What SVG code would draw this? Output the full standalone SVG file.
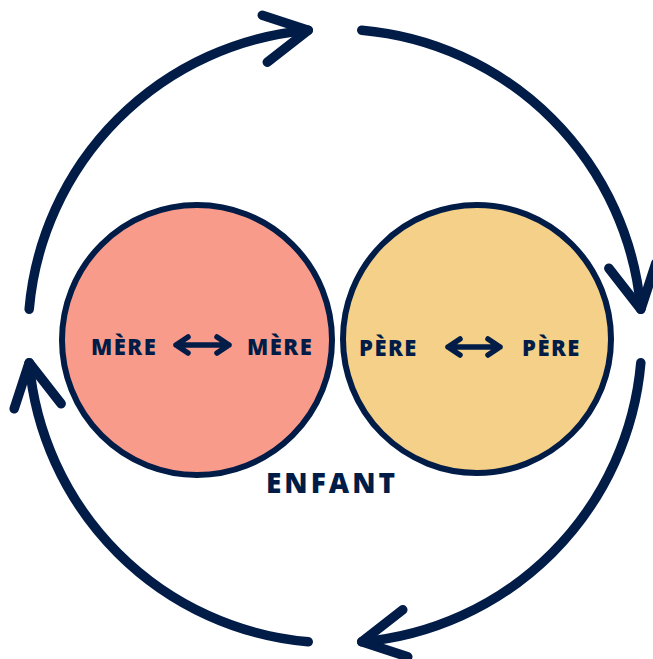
<svg xmlns="http://www.w3.org/2000/svg" width="653" height="659" viewBox="0 0 653 659">
  <style>
    .ring { fill: none; stroke: #021c48; stroke-width: 9.5; stroke-linecap: round; stroke-linejoin: round; }
    .disc { stroke: #021c48; stroke-width: 6; }
    .mere { fill: #f99b8b; }
    .pere { fill: #f4d088; }
    .dbl { fill: none; stroke: #021c48; stroke-width: 5.5; stroke-linecap: round; stroke-linejoin: round; }
    .lbl { font-family: "Open Sans", "DejaVu Sans", sans-serif; font-weight: 800; fill: #021c48; }
    .small { font-size: 22px; letter-spacing: 1.5px; }
    .big { font-size: 28px; letter-spacing: 3px; }
  </style>
  <defs>
    <!-- open chevron with its tip at the origin, pointing right along the ring -->
    <path id="head" d="M-46,-15 L0,0 L-41,32"/>
  </defs>
  <rect width="653" height="659" fill="#ffffff"/>

  <!-- clockwise cycle around the two circles -->
  <g id="connectors" class="ring">
    <path d="M29.17,309.24 A307,307 0 0 1 308.24,30.17"/>
    <use href="#head" transform="translate(308.24,30.17)"/>
    <path d="M361.76,30.17 A307,307 0 0 1 640.83,309.24"/>
    <use href="#head" transform="translate(640.83,309.24) rotate(90)"/>
    <path d="M640.83,362.76 A307,307 0 0 1 361.76,641.83"/>
    <use href="#head" transform="translate(361.76,641.83) rotate(180)"/>
    <path d="M308.24,641.83 A307,307 0 0 1 29.17,362.76"/>
    <use href="#head" transform="translate(29.17,362.76) rotate(270)"/>
  </g>

  <g id="mere">
    <circle class="disc mere" cx="197" cy="340" r="135"/>
    <text class="lbl small" x="91" y="355">MÈRE</text>
    <path class="dbl" d="M176,345 H229 M188,337 L176,345 L188,353 M217,337 L229,345 L217,353"/>
    <text class="lbl small" x="247" y="355">MÈRE</text>
  </g>

  <g id="pere">
    <circle class="disc pere" cx="477" cy="339" r="134"/>
    <text class="lbl small" x="359" y="356">PÈRE</text>
    <path class="dbl" d="M448,347 H500 M460,339 L448,347 L460,355 M488,339 L500,347 L488,355"/>
    <text class="lbl small" x="522" y="356">PÈRE</text>
  </g>

  <g id="enfant">
    <text class="lbl big" x="266" y="493">ENFANT</text>
  </g>
</svg>
